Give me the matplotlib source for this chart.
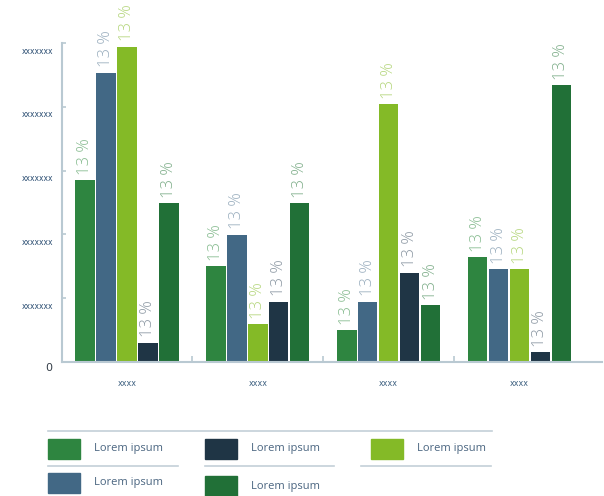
import matplotlib
matplotlib.use("Agg")
import matplotlib.pyplot as plt
import matplotlib.patches as patches
from matplotlib.lines import Line2D
from matplotlib.transforms import ScaledTranslation
import numpy as np

# data
groups = ["xxxx", "xxxx", "xxxx", "xxxx"]
ytick_labels = ["xxxxxxx", "xxxxxxx", "xxxxxxx", "xxxxxxx", "xxxxxxx"]
series_names = ["Lorem ipsum", "Lorem ipsum", "Lorem ipsum", "Lorem ipsum", "Lorem ipsum"]
series_colors = ["#2e8540", "#426885", "#84ba27", "#1f3545", "#217037"]
label_colors = ["#86bb8f", "#9aaebe", "#b5d67d", "#8c98a3", "#7fae8a"]
bar_text = "13 %"

s_green = [2.85, 1.50, 0.50, 1.64]
s_blue = [4.53, 1.99, 0.94, 1.45]
s_lime = [4.94, 0.59, 4.04, 1.45]
s_navy = [0.30, 0.94, 1.40, 0.15]
s_dark = [2.49, 2.49, 0.89, 4.34]
series = [s_green, s_blue, s_lime, s_navy, s_dark]

sans = ["Open Sans", "DejaVu Sans"]

W, H = 604, 496
fig = plt.figure(figsize=(W / 100, H / 100), dpi=100)
ax = fig.add_axes([61.5 / W, 1 - 362 / H, (602 - 61.5) / W, (362 - 43) / H])

spine_col = "#b9c9d2"
x = np.arange(len(groups))
pitch, width = 0.16, 0.149
for j, vals in enumerate(series):
    xs = x + (j - 2) * pitch
    ax.bar(xs, vals, width, color=series_colors[j], zorder=2)
    for xi, v in zip(xs, vals):
        ax.annotate(bar_text, (xi, v), xytext=(0, 4), textcoords="offset points",
                    rotation=90, ha="center", va="bottom", fontsize=12,
                    color=label_colors[j], family=sans, fontweight="light",
                    annotation_clip=False)

ax.set_xlim(-0.5, 3.63)
ax.set_ylim(0, 5)
for s in ["top", "right"]:
    ax.spines[s].set_visible(False)
for s in ["left", "bottom"]:
    ax.spines[s].set_color(spine_col)
    ax.spines[s].set_linewidth(1.5)

ax.set_xticks(x[:-1] + 0.5)
ax.set_xticklabels([])
ax.tick_params(axis="x", direction="in", length=4, color=spine_col, width=1.2)
ax.set_yticks(np.arange(1, 6))
ax.set_yticklabels(ytick_labels, fontsize=5.5, color="#2d4f73")
ax.tick_params(axis="y", direction="in", length=3, color=spine_col, width=1.2, pad=6)
off = ScaledTranslation(0, -7 / 100, fig.dpi_scale_trans)
for lab in ax.get_yticklabels():
    lab.set_transform(lab.get_transform() + off)

for xi, g in zip(x, groups):
    ax.text(xi, -21 / 63.8, g, ha="center", va="center", fontsize=5.8,
            color="#3d6080", clip_on=False)
fig.text(49 / W, 1 - 368 / H, "0", ha="center", va="center", fontsize=8, color="#333d47")

# legend drawn by hand underneath
def fx(px):
    return px / W

def fy(py):
    return 1 - py / H

line_col = "#c3d0d8"
fig.add_artist(Line2D([fx(48), fx(492)], [fy(431), fy(431)], color=line_col, lw=1.2))
for a, b in [(48, 178), (205, 334), (361, 491)]:
    fig.add_artist(Line2D([fx(a), fx(b)], [fy(466), fy(466)], color=line_col, lw=1.2))

legend_slots = [(48, 439), (48, 473), (205, 439), (205, 476), (371, 439)]
legend_order = [0, 1, 3, 4, 2]
for (px, py), k in zip(legend_slots, legend_order):
    fig.add_artist(patches.Rectangle((fx(px), fy(py + 20)), 32 / W, 20 / H,
                                     transform=fig.transFigure, color=series_colors[k]))
    fig.text(fx(px + 46), fy(py + 10), series_names[k], ha="left", va="center",
             fontsize=8, color="#4a6580", family=sans)

fig.savefig("out.png", dpi=100)
